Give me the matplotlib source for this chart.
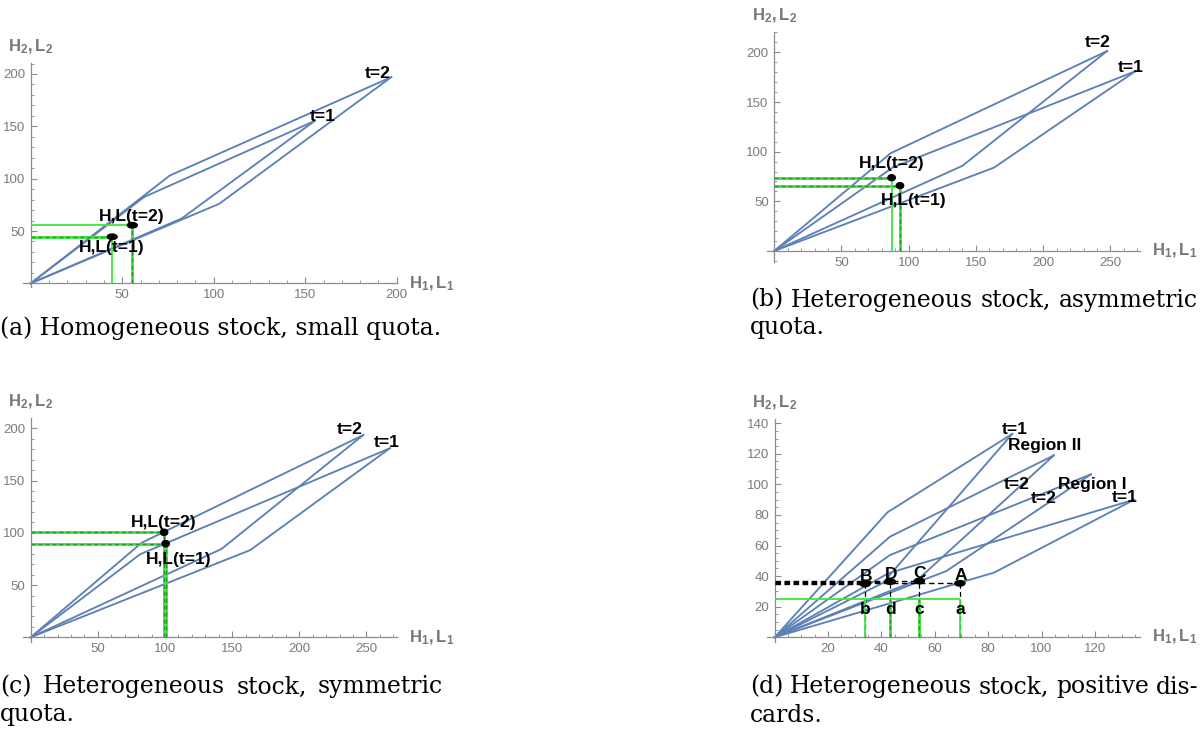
import matplotlib
matplotlib.use('Agg')
import matplotlib.pyplot as plt
from matplotlib.patches import Ellipse
from matplotlib.ticker import MultipleLocator

plt.rcParams['font.family'] = ['Liberation Sans', 'DejaVu Sans']
plt.rcParams['mathtext.fontset'] = 'custom'
plt.rcParams['mathtext.rm'] = 'Liberation Sans'
plt.rcParams['mathtext.bf'] = 'Liberation Sans:bold'

W, H = 1203, 734
AZUL = '#5e81b5'
CINZA = '#8c8c8c'
VERDE = '#3ee63e'
VERDE_ESC = '#259a25'

# (a) estoque homogeneo, cota pequena
a_linhas_x = [[0, 62, 155], [0, 82.5, 155], [0, 76, 197], [0, 103, 197]]
a_linhas_y = [[0, 82.5, 155], [0, 62, 155], [0, 103, 197], [0, 76, 197]]
a_hl_x = [44.5, 55.5]
a_hl_y = [44.5, 55.5]
a_rot = ['t=2', 't=1', 'H,L(t=2)', 'H,L(t=1)']
a_rot_x = [189.6, 159.4, 55.2, 44.3]
a_rot_y = [200, 159.8, 64.3, 34.4]

# (b) estoque heterogeneo, cota assimetrica
b_linhas_x = [[0, 88, 268.5], [0, 163.5, 268.5], [0, 86.5, 247.5], [0, 140, 247.5]]
b_linhas_y = [[0, 84, 181], [0, 84, 181], [0, 98.4, 201.3], [0, 85.8, 201.3]]
b_hl_x = [93.5, 87.3]
b_hl_y = [65.8, 73.8]
b_rot = ['t=2', 't=1', 'H,L(t=2)', 'H,L(t=1)']
b_rot_x = [240.2, 265, 87.3, 103.4]
b_rot_y = [210.2, 184.6, 88.3, 50.4]

# (c) estoque heterogeneo, cota simetrica
c_linhas_x = [[0, 81.5, 267.5], [0, 163.5, 267.5], [0, 82.6, 247.6], [0, 142, 247.6]]
c_linhas_y = [[0, 79.5, 181], [0, 83.5, 181], [0, 90.5, 193.6], [0, 84.5, 193.6]]
c_hl_x = [100.5, 99.3]
c_hl_y = [89.6, 100.5]
c_rot = ['t=2', 't=1', 'H,L(t=2)', 'H,L(t=1)']
c_rot_x = [237.7, 265, 98.8, 109.9]
c_rot_y = [199, 186.3, 109.7, 74]

# (d) estoque heterogeneo, descarte positivo
d_linhas_x = [[0, 42.3, 89], [0, 40.5, 89], [0, 43.2, 104.6], [0, 53.5, 104.6],
              [0, 43.2, 118.5], [0, 64.3, 118.5], [0, 42.6, 134.7], [0, 82.2, 134.7]]
d_linhas_y = [[0, 81.8, 133], [0, 35.5, 133], [0, 65.8, 119], [0, 37.5, 119],
              [0, 53.8, 106.6], [0, 43.3, 106.6], [0, 41.9, 90], [0, 42.3, 90]]
d_pts_x = [33.9, 43.3, 54.2, 69.4]
d_pts_y = [34.9, 36.4, 36.8, 35.3]
d_pts_rot = ['B', 'D', 'C', 'A']
d_pts_rot_inf = ['b', 'd', 'c', 'a']
d_nivel_verde = 25
d_rot = ['t=1', 'Region II', 't=2', 'Region I', 't=2', 't=1']
d_rot_x = [90.1, 101, 90.75, 119, 100.75, 131]
d_rot_y = [136, 125.4, 100, 100, 90.5, 91.6]

legendas = [
    (['(a) Homogeneous stock, small quota.'], 0, 443, 328),
    (['(b) Heterogeneous stock, asymmetric', 'quota.'], 750, 1198, 300),
    (['(c) Heterogeneous stock, symmetric', 'quota.'], 0, 443, 687),
    (['(d) Heterogeneous stock, positive dis-', 'cards.'], 750, 1198, 687),
]


def eixos(fig, ret_px, xlim, ylim, xmaj, xmen, ymaj, ymen):
    esq, dire, topo, base = ret_px
    ax = fig.add_axes([esq / W, 1 - base / H, (dire - esq) / W, (base - topo) / H])
    ax.set_xlim(xlim)
    ax.set_ylim(ylim)
    ax.patch.set_alpha(0)
    for lado in ['top', 'right']:
        ax.spines[lado].set_visible(False)
    for lado in ['left', 'bottom']:
        ax.spines[lado].set_position(('data', 0))
        ax.spines[lado].set_color(CINZA)
        ax.spines[lado].set_linewidth(0.9)
    ax.set_xticks(xmaj)
    ax.set_yticks(ymaj)
    ax.xaxis.set_minor_locator(MultipleLocator(xmen))
    ax.yaxis.set_minor_locator(MultipleLocator(ymen))
    ax.tick_params(which='major', direction='in', length=4, width=0.8, color=CINZA,
                   labelcolor='#7b7b7b', labelsize=9.5, pad=4)
    ax.tick_params(which='minor', direction='in', length=2.2, width=0.6, color=CINZA)
    ax.annotate(r'$\mathbf{H_2,L_2}$', xy=(0, 1), xycoords=('data', 'axes fraction'),
                xytext=(0, 16), textcoords='offset pixels', ha='center', va='center',
                fontsize=12, color='#777777')
    ax.annotate(r'$\mathbf{H_1,L_1}$', xy=(1, 0), xycoords=('axes fraction', 'data'),
                xytext=(12, 0), textcoords='offset pixels', ha='left', va='center',
                fontsize=12, color='#777777')
    return ax


def guia(ax, xs, ys, tracejado):
    if tracejado:
        ax.plot(xs, ys, color=VERDE, lw=2.0, zorder=3, solid_capstyle='butt')
        ax.plot(xs, ys, color=VERDE_ESC, lw=1.0, dashes=(3, 2), zorder=3)
    else:
        ax.plot(xs, ys, color=VERDE, lw=1.3, zorder=3, solid_capstyle='butt')


def ponto(ax, x, y, w, h):
    ax.add_patch(Ellipse((x, y), w, h, color='black', zorder=4))


def rotulos(ax, textos, xs, ys, fs=12.5):
    for t, x, y in zip(textos, xs, ys):
        ax.text(x, y, t, ha='center', va='center', fontsize=fs, fontweight='bold',
                color='black', zorder=5)


def painel_hl(ax, linhas_x, linhas_y, hl_x, hl_y, estilos, tam, rot, rot_x, rot_y):
    for xs, ys in zip(linhas_x, linhas_y):
        ax.plot(xs, ys, color=AZUL, lw=1.35, zorder=2)
    for (x, y), (th, tv) in zip(zip(hl_x, hl_y), estilos):
        guia(ax, [0, x], [y, y], th)
        guia(ax, [x, x], [0, y], tv)
        ponto(ax, x, y, tam[0], tam[1])
    rotulos(ax, rot, rot_x, rot_y)


def main():
    fig = plt.figure(figsize=(W / 100, H / 100), dpi=100)

    ax = eixos(fig, (22.7, 397.3, 63.3, 286.7), (-4.4, 200.3), (-3.2, 210.2),
               [50, 100, 150, 200], 10, [50, 100, 150, 200], 10)
    painel_hl(ax, a_linhas_x, a_linhas_y, a_hl_x, a_hl_y,
              [(True, False), (False, True)], (5.4, 5.2), a_rot, a_rot_x, a_rot_y)

    ax = eixos(fig, (766.7, 1140, 31.7, 261.7), (-5.6, 272), (-10.8, 220.8),
               [50, 100, 150, 200, 250], 10, [50, 100, 150, 200], 10)
    painel_hl(ax, b_linhas_x, b_linhas_y, b_hl_x, b_hl_y,
              [(True, True), (True, False)], (5.5, 6.0), b_rot, b_rot_x, b_rot_y)

    ax = eixos(fig, (22.7, 396.7, 418, 641.7), (-5.96, 272.5), (-4.2, 209.9),
               [50, 100, 150, 200, 250], 10, [50, 100, 150, 200], 10)
    painel_hl(ax, c_linhas_x, c_linhas_y, c_hl_x, c_hl_y,
              [(True, True), (True, True)], (5.5, 6.0), c_rot, c_rot_x, c_rot_y)

    ax = eixos(fig, (766.7, 1140, 419.3, 641.7), (-3.0, 136.9), (-2.9, 142.6),
               [20, 40, 60, 80, 100, 120], 5, [20, 40, 60, 80, 100, 120, 140], 5)
    for xs, ys in zip(d_linhas_x, d_linhas_y):
        ax.plot(xs, ys, color=AZUL, lw=1.35, zorder=2)
    for x, y in zip(d_pts_x, d_pts_y):
        ax.plot([0, x], [y, y], color='black', lw=1.0, dashes=(4, 2.5), zorder=3)
        ax.plot([x, x], [0, y], color='black', lw=0.9, dashes=(4, 2.5), zorder=3)
    guia(ax, [0, d_pts_x[-1]], [d_nivel_verde, d_nivel_verde], False)
    for i, x in enumerate(d_pts_x):
        guia(ax, [x, x], [0, d_nivel_verde], i in (1, 2))
    for x, y in zip(d_pts_x, d_pts_y):
        ponto(ax, x, y, 3.8, 3.6)
    rotulos(ax, d_pts_rot, [x + 0.2 for x in d_pts_x], [y + 4.8 for y in d_pts_y])
    rotulos(ax, d_pts_rot_inf, d_pts_x, [18.3] * len(d_pts_x))
    rotulos(ax, d_rot, d_rot_x, d_rot_y)

    # legendas em fonte serifada, primeira linha justificada
    ren = fig.canvas.get_renderer()
    t = fig.text(0, 0, legendas[0][0][0], fontsize=10, family='DejaVu Serif')
    fs = 10 * 443 / t.get_window_extent(ren).width
    t.remove()
    for linhas, x0, x1, y0 in legendas:
        for i, linha in enumerate(linhas):
            y = 1 - (y0 + 28 * i) / H
            if i == len(linhas) - 1:
                fig.text(x0 / W, y, linha, fontsize=fs, family='DejaVu Serif',
                         ha='left', va='center')
                continue
            palavras = linha.split(' ')
            txts = [fig.text(0, y, p, fontsize=fs, family='DejaVu Serif',
                             ha='left', va='center') for p in palavras]
            larg = [tx.get_window_extent(ren).width for tx in txts]
            folga = (x1 - x0 - sum(larg)) / (len(palavras) - 1)
            x = x0
            for tx, w in zip(txts, larg):
                tx.set_x(x / W)
                x += w + folga

    fig.savefig('out.png', dpi=100)


if __name__ == "__main__":
    main()
